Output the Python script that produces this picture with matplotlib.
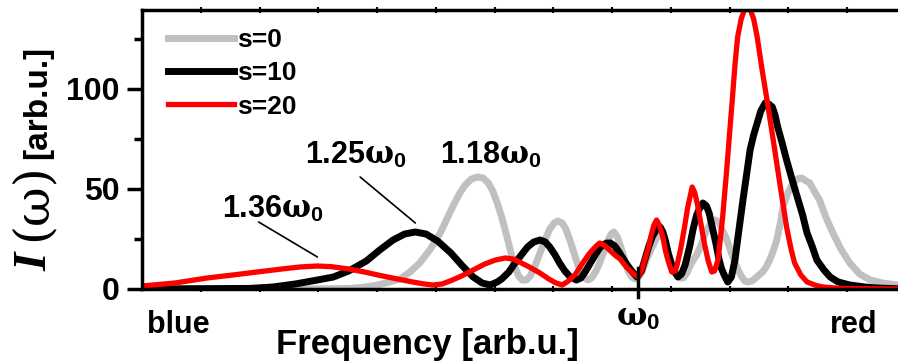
import numpy as np
import matplotlib
matplotlib.use("Agg")
import matplotlib.pyplot as plt

# ------------------------------------------------------------
# Fontes: Arial-like bold everywhere, serif for the omega glyphs
# ------------------------------------------------------------
plt.rcParams['font.family'] = ['Liberation Sans', 'DejaVu Sans']
plt.rcParams['font.weight'] = 'bold'
plt.rcParams['axes.labelweight'] = 'bold'
plt.rcParams['mathtext.fontset'] = 'custom'
plt.rcParams['mathtext.rm'] = 'DejaVu Serif:bold'
plt.rcParams['mathtext.it'] = 'Liberation Serif:italic:bold'
plt.rcParams['mathtext.bf'] = 'Liberation Sans:bold'

# ------------------------------------------------------------
# Spectra I(w) vs w/w0 (blue side = higher frequency, on the left)
# ------------------------------------------------------------
S0_FREQ = [1.557, 1.400, 1.350, 1.324, 1.310, 1.298, 1.283, 1.267, 1.256, 1.245,
           1.233, 1.222, 1.214, 1.206, 1.200, 1.194, 1.187, 1.180, 1.174, 1.168,
           1.163, 1.158, 1.153, 1.147, 1.142, 1.138, 1.134, 1.130, 1.125, 1.121,
           1.116, 1.110, 1.104, 1.099, 1.094, 1.090, 1.085, 1.081, 1.076, 1.071,
           1.066, 1.060, 1.056, 1.052, 1.047, 1.043, 1.038, 1.034, 1.030, 1.027,
           1.023, 1.020, 1.015, 1.011, 1.007, 1.003, 0.999, 0.995, 0.990, 0.985,
           0.979, 0.974, 0.970, 0.966, 0.961, 0.956, 0.952, 0.949, 0.945, 0.941,
           0.937, 0.934, 0.929, 0.925, 0.922, 0.918, 0.913, 0.909, 0.906, 0.903,
           0.900, 0.895, 0.889, 0.884, 0.880, 0.876, 0.872, 0.869, 0.864, 0.860,
           0.856, 0.852, 0.848, 0.844, 0.840, 0.837, 0.832, 0.826, 0.821, 0.816,
           0.811, 0.807, 0.802, 0.796, 0.789, 0.781, 0.772, 0.762, 0.751, 0.739,
           0.725, 0.709, 0.700]
S0_INT = [0, 0, 0.1, 0.3, 0.8, 1.5, 3, 5, 8.5, 13,
          20, 28, 35.5, 43, 48, 52, 55, 56, 55.5, 53,
          49, 43, 36, 26, 17, 11, 6.5, 4.5, 4.5, 6.5,
          11, 18, 25, 30, 33, 34, 33, 30, 24, 17,
          10, 5.5, 4.5, 5.5, 9, 13, 19, 24, 27.5, 28.5,
          26, 22, 15, 9, 6, 5, 6, 9, 15, 20,
          25.5, 28, 24.5, 18, 11, 7, 5.5, 5.5, 8, 12,
          15, 17, 22, 27, 30, 33, 34.5, 33.5, 30, 27.5,
          24.5, 18, 11, 6.5, 4, 3.5, 4, 5, 7, 8.5,
          11, 14.5, 19, 24.5, 33, 41, 47.5, 53, 55, 55.5,
          54, 53, 49, 44.5, 36, 28, 20, 13, 7.5, 4.5,
          3, 2, 1.5]

S10_FREQ = [1.557, 1.436, 1.410, 1.385, 1.360, 1.342, 1.325, 1.305, 1.290, 1.275,
            1.262, 1.250, 1.238, 1.225, 1.210, 1.197, 1.185, 1.175, 1.166, 1.158,
            1.153, 1.145, 1.138, 1.131, 1.124, 1.117, 1.110, 1.104, 1.099, 1.093,
            1.088, 1.082, 1.076, 1.069, 1.064, 1.060, 1.054, 1.048, 1.043, 1.039,
            1.035, 1.031, 1.026, 1.022, 1.017, 1.012, 1.006, 1.001, 0.996, 0.992,
            0.988, 0.984, 0.979, 0.975, 0.972, 0.969, 0.966, 0.962, 0.958, 0.955,
            0.951, 0.947, 0.942, 0.938, 0.934, 0.931, 0.927, 0.923, 0.920, 0.916,
            0.912, 0.909, 0.906, 0.902, 0.899, 0.895, 0.891, 0.887, 0.882, 0.878,
            0.874, 0.870, 0.866, 0.862, 0.857, 0.853, 0.849, 0.846, 0.843, 0.838,
            0.833, 0.827, 0.821, 0.815, 0.810, 0.804, 0.799, 0.791, 0.784, 0.775,
            0.762, 0.745, 0.731, 0.700]
S10_INT = [0, 0.3, 1, 2.5, 4.5, 6, 9, 14, 19.5, 24.5,
           27.5, 28.5, 27.5, 24, 18, 11.5, 6, 3, 2, 3.5,
           5, 8.5, 13, 17, 21, 23.5, 24.5, 23.5, 21, 17,
           13, 9, 6, 4.5, 5.5, 8, 12.5, 17, 20.5, 22,
           23, 23, 21.5, 19, 15.5, 12, 8.5, 6, 9, 15,
           21, 26, 30, 31, 28.5, 24, 18, 12, 8, 6,
           7.5, 12, 21, 30, 37, 40, 43, 41.5, 38, 30,
           22, 15, 10, 6, 3.5, 6, 14.5, 28, 44.5, 57,
           69.5, 77, 83, 89, 93, 92.5, 91, 87, 81, 73,
           64.5, 55, 46, 37, 28, 21, 14.5, 9.5, 6, 3.5,
           2, 1, 0.5, 0]

S20_FREQ = [1.557, 1.520, 1.484, 1.455, 1.428, 1.400, 1.380, 1.360, 1.345, 1.325,
            1.307, 1.290, 1.270, 1.253, 1.240, 1.230, 1.220, 1.211, 1.198, 1.185,
            1.172, 1.160, 1.149, 1.140, 1.133, 1.122, 1.110, 1.100, 1.092, 1.085,
            1.078, 1.070, 1.062, 1.055, 1.048, 1.043, 1.038, 1.032, 1.026, 1.020,
            1.013, 1.006, 1.000, 0.996, 0.992, 0.988, 0.985, 0.982, 0.979, 0.976,
            0.972, 0.969, 0.966, 0.962, 0.958, 0.956, 0.952, 0.948, 0.944, 0.939,
            0.936, 0.933, 0.929, 0.925, 0.921, 0.917, 0.914, 0.910, 0.905, 0.900,
            0.897, 0.894, 0.891, 0.888, 0.884, 0.880, 0.874, 0.870, 0.866, 0.861,
            0.855, 0.848, 0.840, 0.833, 0.828, 0.824, 0.817, 0.810, 0.800, 0.792,
            0.775, 0.762, 0.700]
S20_INT = [1.5, 3, 5.5, 7, 8.5, 10, 11, 11.5, 11.2, 10,
           8.5, 6.8, 5, 3.5, 2.5, 2, 2.5, 4, 6.5, 9.5,
           12.5, 14.5, 15.5, 15, 13.5, 11, 8, 5, 3, 2,
           4, 7.5, 13, 17.5, 21, 23, 22, 19.5, 17, 15,
           11, 8, 6, 9, 15, 21, 27, 32, 34.5, 32,
           26, 19, 14, 8.5, 9, 12, 20, 30, 41, 51,
           48, 42, 32, 22, 14, 8.5, 9, 14.5, 35, 61,
           78, 94.5, 112, 126, 135, 140, 140, 135, 126, 111,
           94.5, 74.5, 51, 31, 20, 13, 7, 3.5, 1.8, 1,
           0.4, 0.2, 0]

LABELS = ['s=0', 's=10', 's=20']
COLORS = ['#c0c0c0', 'black', '#ff0000']
WIDTHS = [5.0, 5.0, 3.8]

# Blue-shifted peak positions (in units of w0) and their heights
PEAK_FREQ = [1.36, 1.25, 1.18]
PEAK_INT = [11.5, 28.5, 56]
PEAK_TEXT = ['1.36', '1.25', '1.18']

OMEGA0 = 1.0
XLIM = (1.557, 0.700)
YLIM = (0, 139.5)

# ------------------------------------------------------------
# Figura
# ------------------------------------------------------------
W, H = 898, 362
fig = plt.figure(figsize=(W / 100, H / 100), dpi=100)
ax = fig.add_axes([142 / W, 73 / H, 763 / W, 279 / H])

for f, i, lab, c, lw in zip([S0_FREQ, S10_FREQ, S20_FREQ],
                            [S0_INT, S10_INT, S20_INT],
                            LABELS, COLORS, WIDTHS):
    ax.plot(f, i, color=c, lw=lw, label=lab, solid_joinstyle='round')

ax.set_xlim(*XLIM)
ax.set_ylim(*YLIM)

for s in ax.spines.values():
    s.set_linewidth(2.5)

# eixo y
ax.set_yticks([0, 50, 100])
ax.set_yticks([25, 75, 125], minor=True)
ax.tick_params(axis='y', which='major', direction='out', length=11, width=2.5,
               pad=5, labelsize=23)
ax.tick_params(axis='y', which='minor', direction='out', length=6, width=2.5)

# eixo x: marcas regulares sem rotulo + marca em w0
step = 0.066
ax.set_xticks(XLIM[0] - step * np.arange(1, 13), minor=True)
ax.tick_params(axis='x', which='minor', top=True, bottom=True,
               direction='inout', length=4, width=1.5)
ax.set_xticks([OMEGA0])
ax.set_xticklabels([r'$\mathrm{\omega}_\mathbf{0}$'])
ax.tick_params(axis='x', which='major', length=0, pad=10, labelsize=23)
ax.axvline(OMEGA0, ymin=-8 / 279, ymax=21 / 279, color='black', lw=2.5,
           clip_on=False)

ax.text(0.0066, -0.158, 'blue', transform=ax.transAxes, fontsize=22,
        va='baseline', ha='left')
ax.text(0.902, -0.158, 'red', transform=ax.transAxes, fontsize=22,
        va='baseline', ha='left')

ax.set_xlabel('Frequency [arb.u.]', fontsize=25, fontweight='bold',
              va='baseline')
ax.xaxis.set_label_coords(0.3735, -0.233)

# rotulo do eixo y montado em tres partes
fig.text(46 / W, 1 - 262 / H, 'I', rotation=90, rotation_mode='anchor',
         ha='center', va='baseline', fontsize=34,
         family='Liberation Serif', style='italic', weight='bold')
fig.text(46 / W, 1 - 202 / H, '(\u03c9)', rotation=90, rotation_mode='anchor',
         ha='center', va='baseline', fontsize=35,
         family='DejaVu Serif', weight='normal')
fig.text(46 / W, 1 - 102 / H, '[arb.u.]', rotation=90, rotation_mode='anchor',
         ha='center', va='baseline', fontsize=24)

# anotacoes dos picos
text_pos = [(1.467, 36), (1.374, 63), (1.222, 63)]
for txt, (tx, ty) in zip(PEAK_TEXT, text_pos):
    ax.text(tx, ty, txt + r'$\mathrm{\omega}_\mathbf{0}$', fontsize=22,
            ha='left', va='baseline')

leader_start = [(1.426, 33.5), (1.312, 56)]
for pf, pi, start in zip(PEAK_FREQ[:2], PEAK_INT[:2], leader_start):
    ax.annotate('', xy=(pf, pi + 4.5), xytext=start,
                arrowprops=dict(arrowstyle='-', color='black', lw=1.2,
                                shrinkA=0, shrinkB=0))

ax.legend(loc='upper left', bbox_to_anchor=(0.034, 0.935), frameon=False,
          fontsize=19, handlelength=2.5, handletextpad=0.12,
          labelspacing=0.35, borderpad=0, borderaxespad=0)

fig.savefig('out.png', dpi=100)
